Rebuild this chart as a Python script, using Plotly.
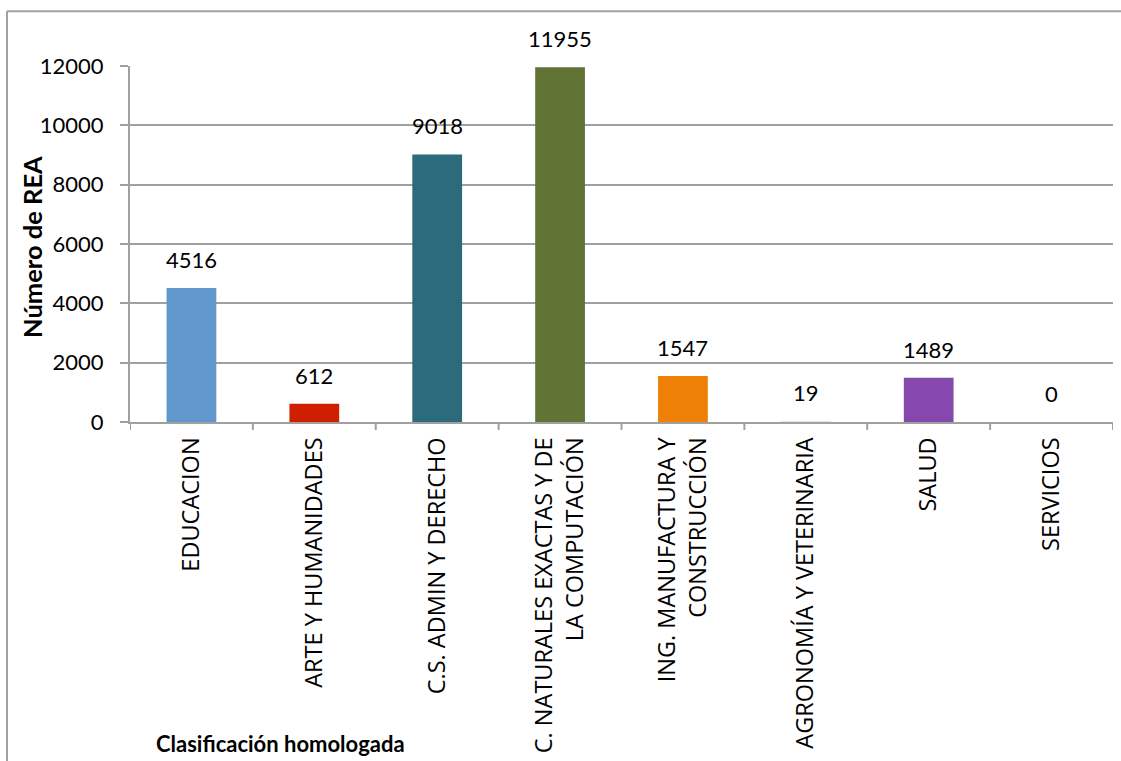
import plotly.graph_objects as go

categories = ["EDUCACION", "ARTE Y HUMANIDADES", "C.S. ADMIN Y DERECHO",
              "C. NATURALES EXACTAS Y DE<br>LA COMPUTACIÓN",
              "ING. MANUFACTURA Y<br>CONSTRUCCIÓN",
              "AGRONOMÍA Y VETERINARIA", "SALUD", "SERVICIOS"]
values = [4516, 612, 9018, 11955, 1547, 19, 1489, 0]
colors = ["#6097CD", "#CF1F00", "#2B6B7B", "#617436", "#EE8006",
          "#E0E8F0", "#8549AE", "#F79646"]
y_ticks = [0, 2000, 4000, 6000, 8000, 10000, 12000]

FONT = "Lato"
CAT_FONT = "Open Sans"
W, H = 1121, 761
L, R, T, B = 130, 1113, 66, 424

fig = go.Figure()
fig.add_trace(go.Bar(x=list(range(len(categories))), y=values,
                     marker=dict(color=colors, line=dict(width=0)),
                     width=0.405, showlegend=False, hoverinfo="skip"))

for i, v in enumerate(values):
    fig.add_annotation(x=i, y=v, text=str(v), showarrow=False,
                       xanchor="center", yanchor="bottom", yshift=13,
                       font=dict(family=FONT, size=22, color="#000"))

def px(x):
    return (x - L) / (R - L)

def py(y):
    return (B - y) / (B - T)

fig.add_annotation(xref="paper", yref="paper", x=px(32), y=py(248),
                   xanchor="center", yanchor="middle",
                   text="<b>Número de REA</b>", textangle=-90, showarrow=False,
                   font=dict(family=FONT, size=25.5, color="#000"))
fig.add_annotation(xref="paper", yref="paper", x=px(280), y=py(747),
                   xanchor="center", yanchor="middle",
                   text="<b>Clasificación homologada</b>", showarrow=False,
                   font=dict(family=FONT, size=22, color="#000"))

# chart border
fig.add_shape(type="line", xref="paper", yref="paper",
              x0=px(7), x1=px(1125), y0=py(11), y1=py(11),
              line=dict(color="#A0A0A0", width=2))
fig.add_shape(type="line", xref="paper", yref="paper",
              x0=px(7), x1=px(7), y0=py(11), y1=py(770),
              line=dict(color="#A0A0A0", width=2))

fig.update_layout(
    width=W, height=H,
    margin=dict(l=L, r=W - R, t=T, b=H - B, pad=0),
    plot_bgcolor="white", paper_bgcolor="white",
    font=dict(family=FONT, size=22, color="#000"),
    xaxis=dict(range=[-0.5, len(categories) - 0.5],
               tickmode="array", tickvals=list(range(len(categories))),
               ticktext=categories, tickangle=-90,
               showline=True, linecolor="#A0A0A0", linewidth=2,
               ticks="", showgrid=False, zeroline=False,
               ticklabelstandoff=4,
               tickfont=dict(family=CAT_FONT, size=23.5, color="#000")),
    yaxis=dict(range=[0, 12000], tickvals=y_ticks, tickformat="d",
               showline=True, linecolor="#A0A0A0", linewidth=2,
               ticks="outside", ticklen=8, tickcolor="#A0A0A0", tickwidth=2,
               showgrid=True, gridcolor="#A0A0A0", gridwidth=2,
               zeroline=False, ticklabelstandoff=12,
               tickfont=dict(family=FONT, size=22, color="#000")),
)

# category boundary tick marks
for i in range(len(categories) + 1):
    fig.add_shape(type="line", xref="x", yref="paper",
                  x0=i - 0.5, x1=i - 0.5, y0=0, y1=-8 / (B - T),
                  line=dict(color="#A0A0A0", width=2))

fig.write_html("out.html", config={"displayModeBar": False},
               post_script="document.body.style.margin='0';document.body.style.overflow='hidden';")
